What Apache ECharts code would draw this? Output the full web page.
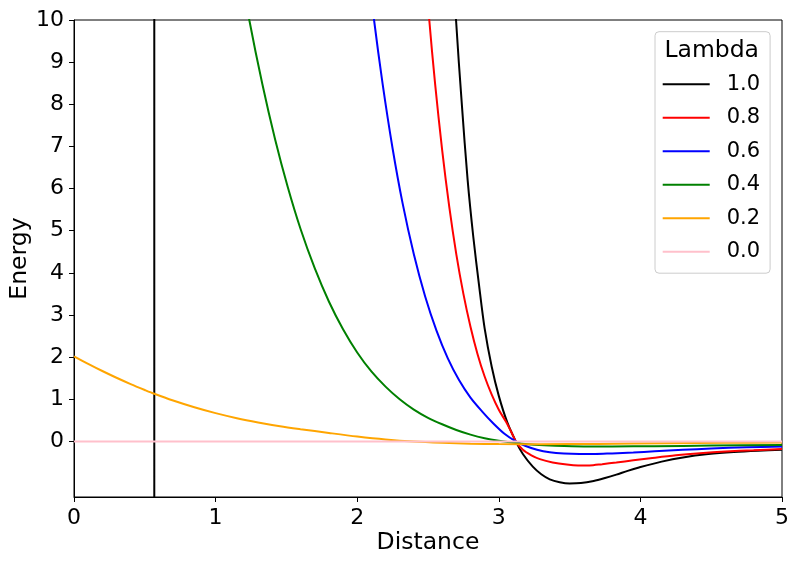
<!DOCTYPE html>
<html>
<head>
<meta charset="utf-8">
<script src="https://cdn.jsdelivr.net/npm/echarts@6/dist/echarts.min.js"></script>
<style>
    html, body { margin: 0; padding: 0; background: #fff; }
</style>
</head>
<body>
<div id="main" style="width: 800px;height: 561px;"></div>
<script>
    // values, [distance, energy]
    const lambdas = ['1.0', '0.8', '0.6', '0.4', '0.2', '0.0'];
    const xTicks = [0, 1, 2, 3, 4, 5];
    const yTicks = [0, 1, 2, 3, 4, 5, 6, 7, 8, 9, 10];

    // lambda 1.0 has a jump at ~0.57 that shoots through the whole plot
    const lam10 = [
        [0.567, -5], [0.567, 30], [2.60, 18], [2.65, 13.0], [2.698, 10.0], [2.74, 7.95],
        [2.78, 6.2], [2.82, 4.85], [2.86, 3.72], [2.90, 2.68], [2.95, 1.77], [3.00, 1.08],
        [3.06, 0.45], [3.12, 0.0], [3.17, -0.30], [3.24, -0.60], [3.30, -0.78], [3.36, -0.90],
        [3.43, -0.97], [3.50, -1.0], [3.58, -0.99], [3.67, -0.94], [3.75, -0.87], [3.83, -0.79],
        [3.91, -0.70], [3.99, -0.62], [4.15, -0.48], [4.30, -0.38], [4.48, -0.30], [4.66, -0.25],
        [4.83, -0.22], [5.0, -0.20]
    ];
    const lam08 = [
        [2.45, 12.54], [2.509, 10.0], [2.55, 8.49], [2.60, 6.91], [2.65, 5.57], [2.70, 4.44],
        [2.75, 3.50], [2.80, 2.72], [2.85, 2.07], [2.90, 1.54], [2.95, 1.11], [3.00, 0.75],
        [3.05, 0.47], [3.09, 0.21], [3.12, 0.0], [3.17, -0.20], [3.23, -0.33], [3.29, -0.42],
        [3.38, -0.50], [3.48, -0.55], [3.56, -0.57], [3.64, -0.57], [3.73, -0.54], [3.83, -0.50],
        [3.95, -0.45], [4.07, -0.40], [4.25, -0.33], [4.42, -0.28], [4.6, -0.24], [4.8, -0.21],
        [5.0, -0.18]
    ];
    const lam06 = [
        [2.06, 11.68], [2.119, 10.0], [2.18, 8.47], [2.25, 6.95], [2.32, 5.66], [2.40, 4.44],
        [2.48, 3.44], [2.56, 2.63], [2.64, 1.97], [2.72, 1.45], [2.80, 1.04], [2.88, 0.72],
        [2.96, 0.43], [3.04, 0.18], [3.12, 0.0], [3.19, -0.11], [3.27, -0.20], [3.36, -0.26],
        [3.46, -0.29], [3.57, -0.30], [3.68, -0.30], [3.80, -0.285], [3.95, -0.265], [4.1, -0.235],
        [4.3, -0.20], [4.5, -0.17], [4.75, -0.14], [5.0, -0.12]
    ];
    const lam04 = [
        [1.15, 11.67], [1.238, 10.0], [1.33, 8.48], [1.42, 7.17], [1.51, 6.03], [1.60, 5.04],
        [1.70, 4.11], [1.80, 3.32], [1.90, 2.66], [2.00, 2.11], [2.10, 1.66], [2.20, 1.30],
        [2.30, 1.00], [2.40, 0.755], [2.50, 0.56], [2.60, 0.406], [2.70, 0.27], [2.80, 0.16],
        [2.90, 0.075], [3.00, 0.015], [3.12, -0.04], [3.25, -0.08], [3.4, -0.105], [3.6, -0.12],
        [3.8, -0.12], [4.1, -0.115], [4.5, -0.10], [5.0, -0.085]
    ];
    const lam02 = [
        [0, 2.02], [0.1, 1.84], [0.2, 1.67], [0.3, 1.51], [0.4, 1.36], [0.5, 1.22],
        [0.567, 1.13], [0.7, 0.97], [0.85, 0.81], [1.0, 0.67], [1.15, 0.55], [1.3, 0.45],
        [1.455, 0.36], [1.6, 0.29], [1.8, 0.20], [2.0, 0.115], [2.2, 0.045], [2.4, -0.005],
        [2.6, -0.035], [2.8, -0.055], [3.0, -0.063], [3.3, -0.066], [3.7, -0.06], [4.2, -0.045],
        [4.6, -0.034], [5.0, -0.025]
    ];
    const lam00 = [[0, 0], [5, 0]];

    const curves = [lam10, lam08, lam06, lam04, lam02, lam00];
    const colors = ['#000000', '#ff0000', '#0000ff', '#008000', '#ffa500', '#ffc0cb'];

    const font = 'DejaVu Sans';
    const myChart = echarts.init(document.getElementById('main'));

    myChart.setOption({
        animation: false,
        color: colors,
        textStyle: {fontFamily: font},
        grid: {
            left: 74,
            right: 18,
            top: 20,
            bottom: 64,
            containLabel: false,
            outerBoundsMode: 'none',
            show: true,
            borderColor: '#000',
            borderWidth: 1,
            backgroundColor: '#fff'
        },
        graphic: [
            {
                type: 'text',
                x: 711.7,
                y: 50.7,
                z: 100,
                style: {
                    text: 'Lambda',
                    fontSize: 23.5,
                    fontFamily: font,
                    fill: '#000',
                    align: 'center',
                    verticalAlign: 'middle'
                }
            }
        ],
        legend: {
            orient: 'vertical',
            left: 655,
            top: 31.7,
            padding: [42, 10, 11, 7.7],
            backgroundColor: 'rgba(255,255,255,0.8)',
            borderColor: '#cccccc',
            borderWidth: 1,
            borderRadius: 4,
            icon: 'rect',
            itemWidth: 47,
            itemHeight: 2,
            itemGap: 12.5,
            textStyle: {fontSize: 21, color: '#000', lineHeight: 21, padding: [0, 0, 0, 12]},
            data: lambdas
        },
        xAxis: {
            type: 'value',
            min: 0,
            max: 5,
            interval: 1,
            name: 'Distance',
            nameLocation: 'middle',
            nameGap: 34,
            nameMoveOverlap: false,
            nameTextStyle: {fontSize: 23.5, color: '#000'},
            axisLine: {onZero: false, lineStyle: {color: '#000', width: 1}},
            axisTick: {length: 5, lineStyle: {color: '#000'}, customValues: xTicks},
            axisLabel: {fontSize: 22, color: '#000', margin: 10, customValues: xTicks},
            splitLine: {show: false}
        },
        yAxis: {
            type: 'value',
            min: -1.32,
            max: 10,
            name: 'Energy',
            nameLocation: 'middle',
            nameGap: 42,
            nameMoveOverlap: false,
            nameTextStyle: {fontSize: 23.5, color: '#000'},
            axisLine: {onZero: false, lineStyle: {color: '#000', width: 1}},
            axisTick: {length: 5, lineStyle: {color: '#000'}, customValues: yTicks},
            axisLabel: {fontSize: 22, color: '#000', margin: 10, customValues: yTicks},
            splitLine: {show: false}
        },
        series: curves.map(function (d, i) {
            return {
                name: lambdas[i],
                type: 'line',
                data: d,
                smooth: 0.3,
                showSymbol: false,
                symbol: 'none',
                clip: true,
                itemStyle: {color: colors[i]},
                lineStyle: {color: colors[i], width: 2}
            };
        })
    });
</script>
</body>
</html>
